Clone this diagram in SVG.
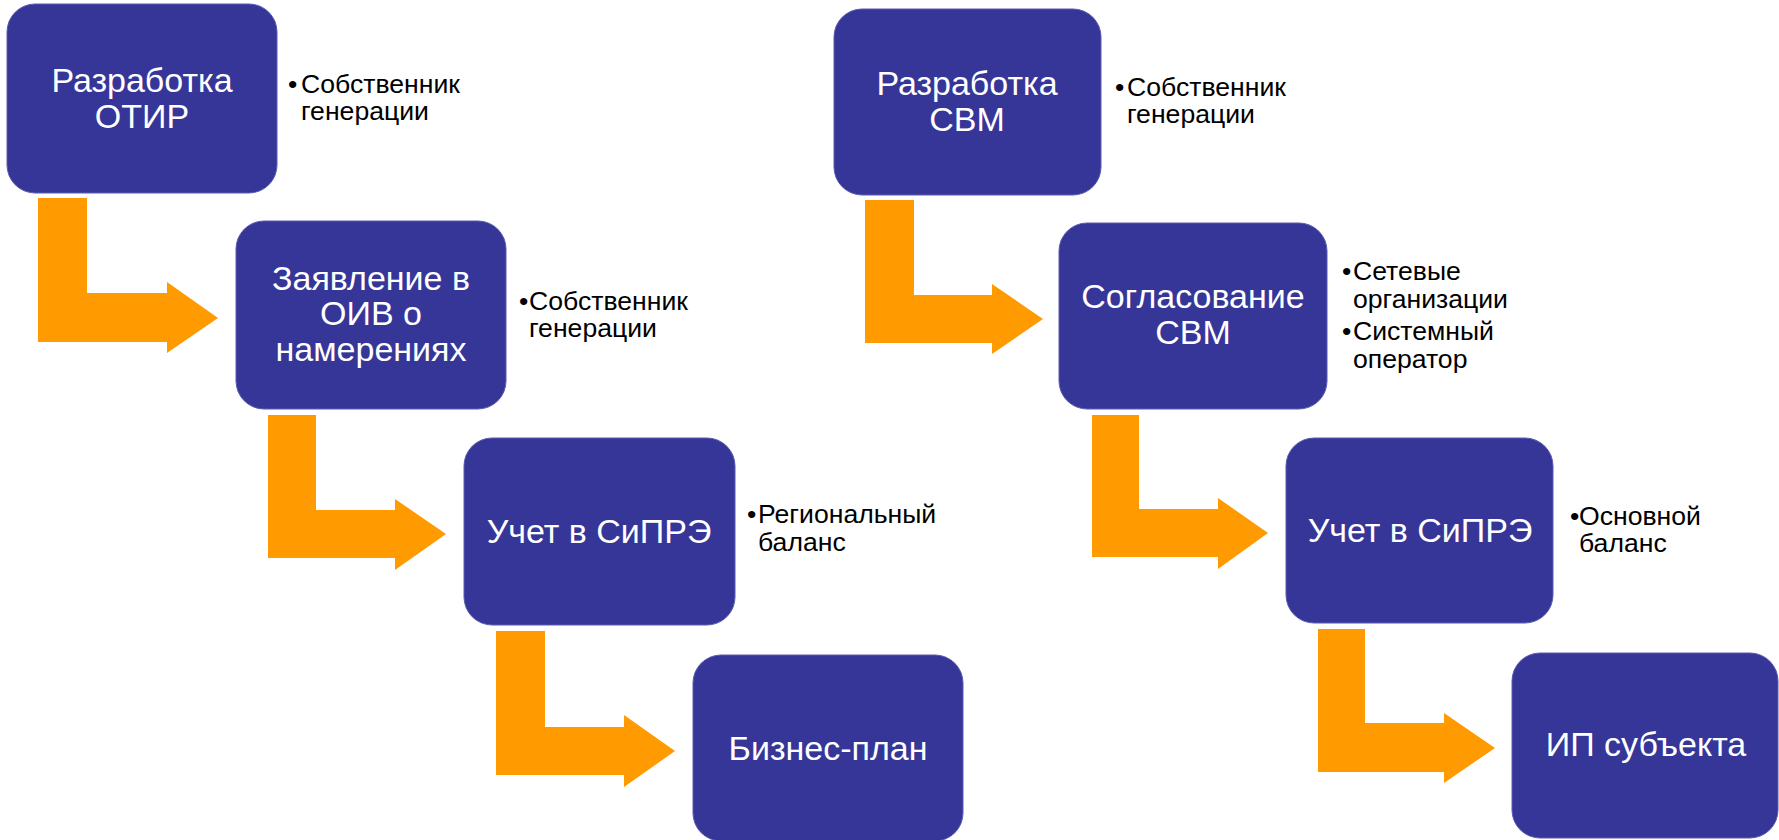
<svg xmlns="http://www.w3.org/2000/svg" width="1779" height="840" viewBox="0 0 1779 840">
<style>
.box{fill:#363699;stroke:#5a5ab0;stroke-width:1}
.bt{font-family:"Liberation Sans",Arial,sans-serif;font-size:34px;fill:#ffffff;text-anchor:middle}
.st{font-family:"Liberation Sans",Arial,sans-serif;font-size:26.6px;fill:#000000}
.arr{fill:#FF9A00}
</style>
<rect width="1779" height="840" fill="#ffffff"/>
<g id="connectors">
<path class="arr" d="M38,198 H87 V293 H167 V282 L218,318 L167,353 V342 H38 Z"/>
<path class="arr" d="M268,415 H316 V510 H395 V499 L446,534 L395,570 V558 H268 Z"/>
<path class="arr" d="M496,631 H545 V727 H624 V715 L675,751 L624,787 V775 H496 Z"/>
<path class="arr" d="M865,200 H914 V295 H992 V284 L1043,319 L992,354 V343 H865 Z"/>
<path class="arr" d="M1092,415 H1139 V509 H1218 V498 L1268,533 L1218,569 V557 H1092 Z"/>
<path class="arr" d="M1318,629 H1365 V723 H1444 V713 L1495,748 L1444,783 V772 H1318 Z"/>
</g>
<g id="n1">
<rect class="box" x="7" y="4" width="270" height="189" rx="28"/>
<text class="bt" x="142" y="92">Разработка</text>
<text class="bt" x="142" y="128">ОТИР</text>
</g>
<g id="s1">
<text class="st" x="288" y="93">•</text>
<text class="st" x="301" y="93">Собственник</text>
<text class="st" x="301" y="120">генерации</text>
</g>
<g id="n2">
<rect class="box" x="236" y="221" width="270" height="188" rx="28"/>
<text class="bt" x="371" y="290">Заявление в</text>
<text class="bt" x="371" y="325">ОИВ о</text>
<text class="bt" x="371" y="361">намерениях</text>
</g>
<g id="s2">
<text class="st" x="519" y="310">•</text>
<text class="st" x="529" y="310">Собственник</text>
<text class="st" x="529" y="337">генерации</text>
</g>
<g id="n3">
<rect class="box" x="464" y="438" width="271" height="187" rx="28"/>
<text class="bt" x="599" y="543">Учет в СиПРЭ</text>
</g>
<g id="s3">
<text class="st" x="747" y="523">•</text>
<text class="st" x="758" y="523">Региональный</text>
<text class="st" x="758" y="551">баланс</text>
</g>
<g id="n4">
<rect class="box" x="693" y="655" width="270" height="186" rx="28"/>
<text class="bt" x="828" y="760">Бизнес-план</text>
</g>
<g id="n5">
<rect class="box" x="834" y="9" width="267" height="186" rx="28"/>
<text class="bt" x="967" y="95">Разработка</text>
<text class="bt" x="967" y="131">СВМ</text>
</g>
<g id="s5">
<text class="st" x="1115" y="96">•</text>
<text class="st" x="1127" y="96">Собственник</text>
<text class="st" x="1127" y="123">генерации</text>
</g>
<g id="n6">
<rect class="box" x="1059" y="223" width="268" height="186" rx="28"/>
<text class="bt" x="1193" y="308">Согласование</text>
<text class="bt" x="1193" y="344">СВМ</text>
</g>
<g id="s6">
<text class="st" x="1342" y="280">•</text>
<text class="st" x="1353" y="280">Сетевые</text>
<text class="st" x="1353" y="308">организации</text>
<text class="st" x="1342" y="340">•</text>
<text class="st" x="1353" y="340">Системный</text>
<text class="st" x="1353" y="368">оператор</text>
</g>
<g id="n7">
<rect class="box" x="1286" y="438" width="267" height="185" rx="28"/>
<text class="bt" x="1420" y="542">Учет в СиПРЭ</text>
</g>
<g id="s7">
<text class="st" x="1570" y="525">•</text>
<text class="st" x="1579" y="525">Основной</text>
<text class="st" x="1579" y="552">баланс</text>
</g>
<g id="n8">
<rect class="box" x="1512" y="653" width="266" height="185" rx="28"/>
<text class="bt" x="1646" y="756">ИП субъекта</text>
</g>
</svg>
